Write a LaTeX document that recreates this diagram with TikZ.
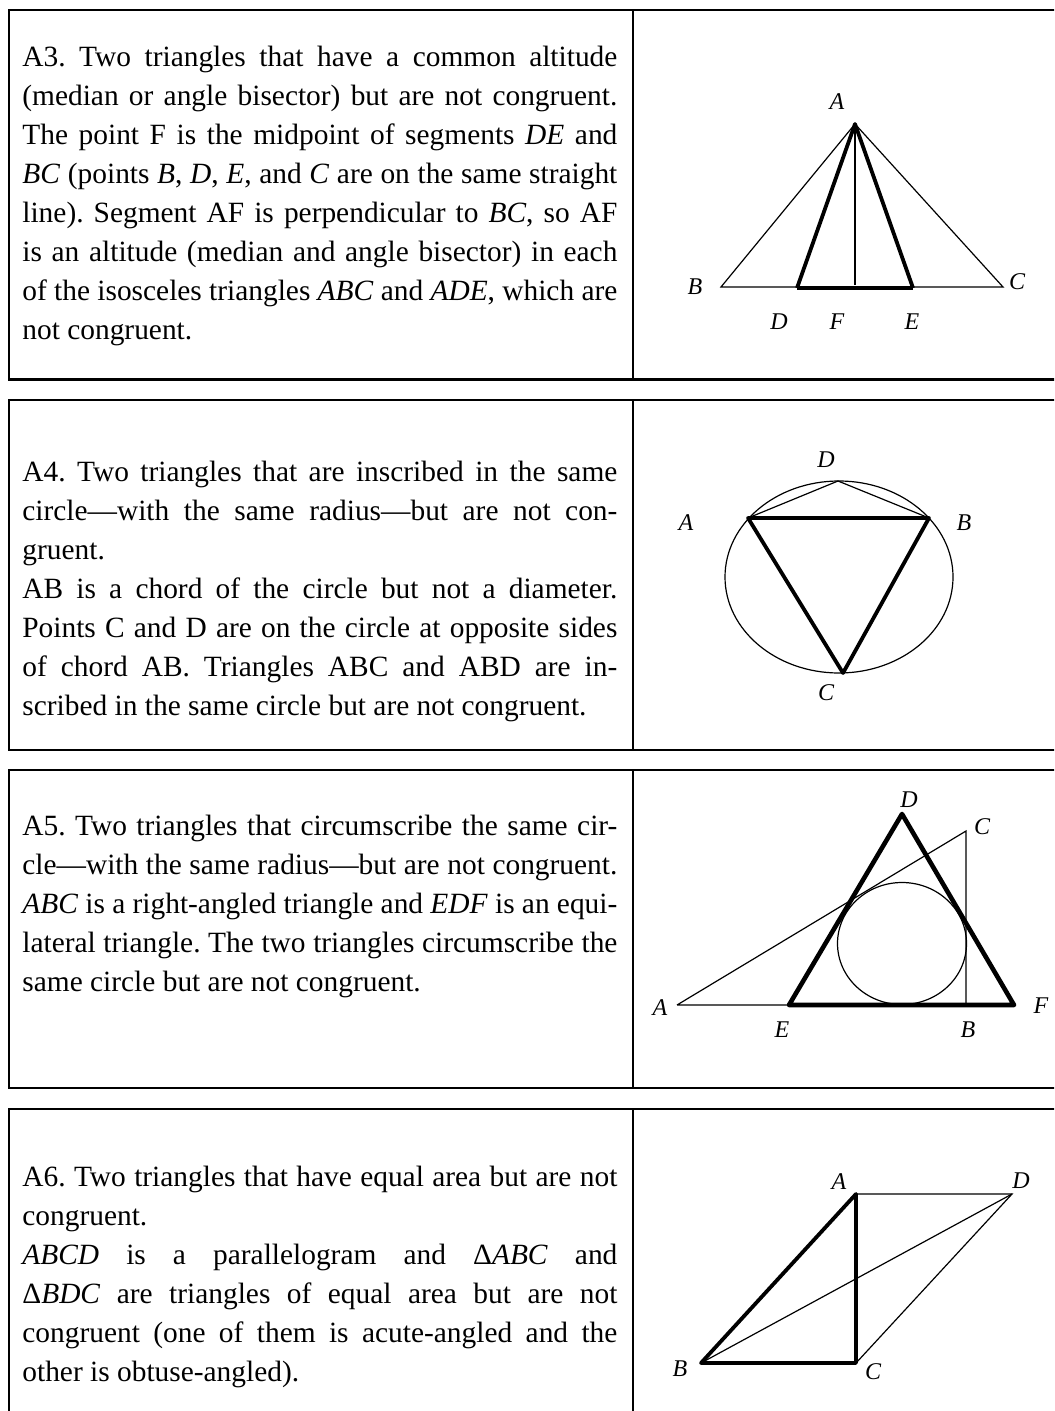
\documentclass[tikz,border=0pt]{standalone}
\usepackage{fontspec}
\setmainfont{Liberation Serif}
\usepackage{tikz}
\usetikzlibrary{positioning,calc}
\tolerance=9999
\emergencystretch=0pt
\frenchspacing
\tikzset{
  boxln/.style={line width=1.1pt},
  thinln/.style={line width=0.6pt},
  midln/.style={line width=1.3pt},
  thickln/.style={line width=1.9pt,line join=round},
  heavyln/.style={line width=2.3pt,line join=round},
  lbl/.style={font=\fontsize{12}{14}\selectfont\itshape,inner sep=0pt},
  txt/.style={anchor=base west,inner sep=0pt,text width=297.5pt,align=justify,
    font=\fontsize{14.7}{19.5}\selectfont}
}
\newcommand{\cellrow}[2]{%
  \draw[boxln] (9,#1) rectangle (1070,#2);
  \draw[boxln] (633,#1) -- (633,#2);
}

\begin{document}
\begin{tikzpicture}[x=0.5pt,y=-0.5pt]
  \useasboundingbox (0,0) rectangle (1054,1411);
  \clip (0,0) rectangle (1054,1411);
  \cellrow{10}{379.5}
  \cellrow{400}{750}
  \cellrow{770}{1088}
  \cellrow{1109}{1440}

  % A3: common altitude
  \node[txt] (t3) at (22,67) {A3. Two triangles that have a common altitude\linebreak
  (median or angle bisector) but are not congruent.\linebreak
  The point F is the midpoint of segments \textit{DE} and\linebreak
  \textit{BC} (points \textit{B}, \textit{D}, \textit{E}, and \textit{C} are on the same straight\linebreak
  line). Segment AF is perpendicular to \textit{BC}, so AF\linebreak
  is an altitude (median and angle bisector) in each\linebreak
  of the isosceles triangles \textit{ABC} and \textit{ADE}, which are\linebreak
  not congruent.};
  \coordinate (tA) at (855,124);
  \coordinate (tB) at (721,287);
  \coordinate (tC) at (1003,287);
  \coordinate (tD) at (797,288);
  \coordinate (tE) at (913,288);
  \coordinate (tF) at (855,285);
  \draw[thinln] (tB) -- (tA) -- (tC) -- cycle;
  \draw[thickln] (tD) -- (tA) -- (tE);
  \draw[midln] (tA) -- (tF);
  \draw[heavyln] (tD) -- (tE);
  \node[lbl] (tAlab) at (837,102) {A};
  \node[lbl] (tBlab) at (695,287) {B};
  \node[lbl] (tClab) at (1017,282) {C};
  \node[lbl] (tDlab) at (779,322) {D};
  \node[lbl] (tFlab) at (837,322) {F};
  \node[lbl] (tElab) at (912,322) {E};

  % A4: inscribed
  \node[txt] (t4) at (22,481) {A4. Two triangles that are inscribed in the same\linebreak
  circle---with the same radius---but are not con-\linebreak
  gruent.\newline
  AB is a chord of the circle but not a diameter.\linebreak
  Points C and D are on the circle at opposite sides\linebreak
  of chord AB. Triangles ABC and ABD are in-\linebreak
  scribed in the same circle but are not congruent.};
  \coordinate (iO) at (839,577);
  \coordinate (iA) at (748,518);
  \coordinate (iB) at (929,518);
  \coordinate (iD) at (838,481);
  \coordinate (iC) at (843,673);
  \draw[thinln] (iO) ellipse [x radius=114,y radius=96];
  \draw[thinln] (iA) -- (iD) -- (iB);
  \draw[thickln] (iA) -- (iB) -- (iC) -- cycle;
  \node[lbl] (iDlab) at (826,460) {D};
  \node[lbl] (iAlab) at (686,523) {A};
  \node[lbl] (iBlab) at (964,523) {B};
  \node[lbl] (iClab) at (826,693) {C};

  % A5: circumscribed
  \node[txt] (t5) at (22,835) {A5. Two triangles that circumscribe the same cir-\linebreak
  cle---with the same radius---but are not congruent.\linebreak
  \textit{ABC} is a right-angled triangle and \textit{EDF} is an equi-\linebreak
  lateral triangle. The two triangles circumscribe the\linebreak
  same circle but are not congruent.};
  \coordinate (cO) at (902,943.5);
  \coordinate (cD) at (902,814);
  \coordinate (cE) at (789,1005);
  \coordinate (cF) at (1014,1005);
  \coordinate (cA) at (677,1005);
  \coordinate (cB) at (966,1005);
  \coordinate (cC) at (966,831);
  \draw[thinln] (cO) ellipse [x radius=64.5,y radius=61];
  \draw[thinln] (cA) -- (cC) -- (cB) -- (cA);
  \draw[heavyln] (cE) -- (cD) -- (cF) -- cycle;
  \node[lbl] (cDlab) at (909,800) {D};
  \node[lbl] (cClab) at (982,827) {C};
  \node[lbl] (cAlab) at (660,1008) {A};
  \node[lbl] (cElab) at (782,1030) {E};
  \node[lbl] (cBlab) at (968,1030) {B};
  \node[lbl] (cFlab) at (1041,1006) {F};

  % A6: equal area
  \node[txt] (t6) at (22,1186) {A6. Two triangles that have equal area but are not\linebreak
  congruent.\newline
  \textit{ABCD} is a parallelogram and Δ\textit{ABC} and\linebreak
  Δ\textit{BDC} are triangles of equal area but are not\linebreak
  congruent (one of them is acute-angled and the\linebreak
  other is obtuse-angled).};
  \coordinate (pA) at (856,1194);
  \coordinate (pD) at (1012,1194);
  \coordinate (pB) at (701,1363);
  \coordinate (pC) at (856,1363);
  \draw[thinln] (pA) -- (pD) -- (pC);
  \draw[thinln] (pB) -- (pD);
  \draw[thickln] (pB) -- (pA) -- (pC) -- cycle;
  \node[lbl] (pAlab) at (839,1182) {A};
  \node[lbl] (pDlab) at (1021,1181) {D};
  \node[lbl] (pBlab) at (680,1369) {B};
  \node[lbl] (pClab) at (873,1372) {C};
\end{tikzpicture}
\end{document}
